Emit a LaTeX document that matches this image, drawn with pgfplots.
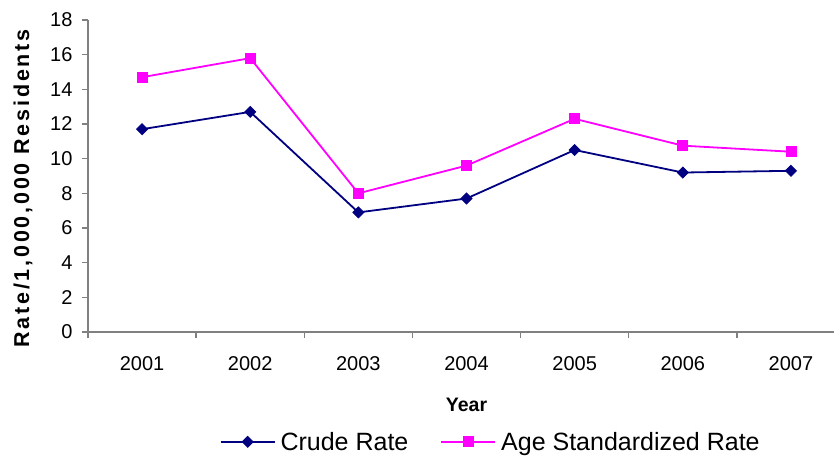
\documentclass[border=0pt]{standalone}
\usepackage{fontspec}
\setmainfont{Liberation Sans}
\newfontfamily\labelfont[LetterSpace=13]{Liberation Sans}
\usepackage{pgfplots}
\pgfplotsset{compat=1.18}
\definecolor{crude}{RGB}{0,0,128}
\definecolor{agestd}{RGB}{255,0,255}
\definecolor{axisgray}{RGB}{128,128,128}

\begin{document}
\begin{tikzpicture}
\useasboundingbox (-88bp,-126bp) rectangle (746bp,332bp);
\begin{axis}[
  at={(0,0)}, anchor=south west,
  scale only axis, width=757bp, height=312bp,
  xmin=0.5, xmax=7.5, ymin=0, ymax=18,
  ytick={0,2,...,18},
  xtick={1,...,7},
  xticklabels={2001,2002,2003,2004,2005,2006,2007},
  minor xtick={0.5,1.5,...,7.5},
  every major x tick/.append style={draw=none},
  axis x line*=bottom, axis y line*=left,
  axis line style={axisgray, line width=1.3bp, -},
  tick style={axisgray, line width=1.3bp},
  tick align=outside,
  major tick length=6bp, minor tick length=6bp,
  font=\fontsize{20bp}{24bp}\selectfont,
  /pgf/number format/assume math mode=true,
  xticklabel style={yshift=-15bp},
  yticklabel style={xshift=-6bp},
  xlabel={\bfseries Year},
  ylabel={\labelfont\bfseries Rate/1,000,000 Residents},
  ylabel style={at={(rel axis cs:0,0.46)}, anchor=center, yshift=65bp, font=\fontsize{21.5bp}{25bp}\selectfont},
  xlabel style={at={(rel axis cs:0.5,0)}, anchor=center, yshift=-73bp, font=\fontsize{19.5bp}{23bp}\selectfont},
  legend columns=2,
  legend style={at={(rel axis cs:0.532,-0.352)}, anchor=center, draw=none, fill=none,
    font=\fontsize{25bp}{29bp}\selectfont,
    /tikz/every odd column/.append style={column sep=3bp},
    /tikz/every even column/.append style={column sep=30bp}},
  legend image code/.code={\draw[mark repeat=2, mark phase=2, #1] plot coordinates {(0bp,0bp) (27bp,0bp) (54bp,0bp)};},
]
\addplot[crude, line width=1.8bp, mark=diamond*, mark size=5.5bp,
  mark options={solid, line width=0.8bp, xscale=1.33}] coordinates {
  (1, 11.7) (2, 12.7) (3, 6.9) (4, 7.7) (5, 10.5) (6, 9.2) (7, 9.3)
};
\addlegendentry{Crude Rate}
\addplot[agestd, line width=1.8bp, mark=square*, mark size=5bp,
  mark options={solid, line width=0.8bp}] coordinates {
  (1, 14.7) (2, 15.8) (3, 8.0) (4, 9.6) (5, 12.3) (6, 10.75) (7, 10.4)
};
\addlegendentry{Age Standardized Rate}
\end{axis}
\end{tikzpicture}
\end{document}
